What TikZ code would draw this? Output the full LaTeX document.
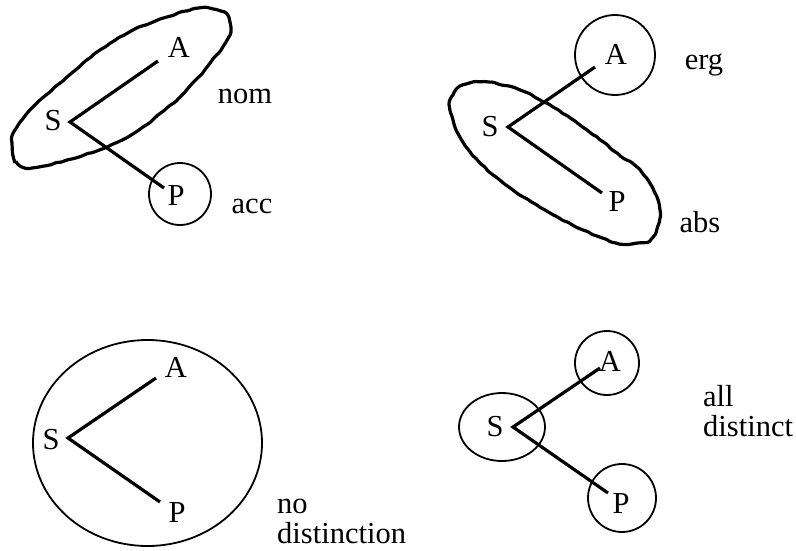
\documentclass[tikz,border=0pt]{standalone}
\usepackage{fontspec}
\setmainfont{Liberation Serif}
\usetikzlibrary{decorations.pathmorphing}

\begin{document}
\begin{tikzpicture}[x=1pt, y=-1pt, font=\fontsize{30.5}{30}\selectfont,
    lbl/.style={inner sep=0pt, anchor=base},
    tag/.style={inner sep=0pt, anchor=base west, align=left},
    arm/.style={line width=3.2pt},
    ring/.style={line width=1.8pt},
    rough/.style={line width=3.2pt, decorate, decoration={random steps, segment length=5pt, amplitude=0.7pt}, rounded corners=1.5pt}]
    \useasboundingbox (0,0) rectangle (796,550);

    % nominative / accusative
    \node[lbl] (s1) at (53,130) {S};
    \node[lbl] (a1) at (179,57) {A};
    \node[lbl] (p1) at (176,205) {P};
    \coordinate (v1) at (70,122);
    \coordinate (ea1) at (158,61);
    \coordinate (ep1) at (164,188);
    \draw[arm] (ea1) -- (v1) -- (ep1);
    \draw[rough] plot[smooth cycle] coordinates {(12,140) (15,160) (30,168) (67,160) (107,147)
        (143,127) (180,97) (207,67) (227,40) (230,23) (223,12) (200,8) (167,17) (133,30)
        (100,50) (67,77) (37,103) (17,127)};
    \draw[ring] (180,194) circle [radius=31];
    \node[lbl] (nom) at (245,103) {nom};
    \node[lbl] (acc) at (252,213) {acc};

    % ergative / absolutive
    \node[lbl] (s2) at (490,136) {S};
    \node[lbl] (a2) at (616,64) {A};
    \node[lbl] (p2) at (617,211) {P};
    \coordinate (v2) at (508,127);
    \coordinate (ea2) at (595,67);
    \coordinate (ep2) at (602,193);
    \draw[arm] (ea2) -- (v2) -- (ep2);
    \draw[ring] (615,55) circle [radius=40];
    \draw[rough] plot[smooth cycle] coordinates {(450,110) (452,97) (463,85) (487,82) (520,90)
        (553,107) (587,130) (617,153) (640,170) (657,197) (660,217) (653,237) (637,243)
        (617,243) (583,230) (550,213) (513,190) (480,163) (460,137)};
    \node[lbl] (erg) at (704,69) {erg};
    \node[lbl] (abs) at (700,232) {abs};

    % neutral
    \node[lbl] (s3) at (51,449) {S};
    \node[lbl] (a3) at (176,377) {A};
    \node[lbl] (p3) at (177,522) {P};
    \coordinate (v3) at (68,438);
    \coordinate (ea3) at (156,378);
    \coordinate (ep3) at (160,502);
    \draw[arm] (ea3) -- (v3) -- (ep3);
    \draw[ring] (147.5,443) ellipse [x radius=114.5, y radius=103];
    \node[tag] (nodist) at (277,543) {no\\distinction};

    % tripartite
    \node[lbl] (s4) at (495,436) {S};
    \node[lbl] (a4) at (610,371) {A};
    \node[lbl] (p4) at (621,513) {P};
    \coordinate (v4) at (513,427);
    \coordinate (ea4) at (600,368);
    \coordinate (ep4) at (608,493);
    \draw[arm] (ea4) -- (v4) -- (ep4);
    \draw[ring] (607,363) circle [radius=32];
    \draw[ring] (502,427) ellipse [x radius=43, y radius=34];
    \draw[ring] (622,498) circle [radius=34];
    \node[tag] (alldist) at (703,436) {all\\distinct};
\end{tikzpicture}
\end{document}
